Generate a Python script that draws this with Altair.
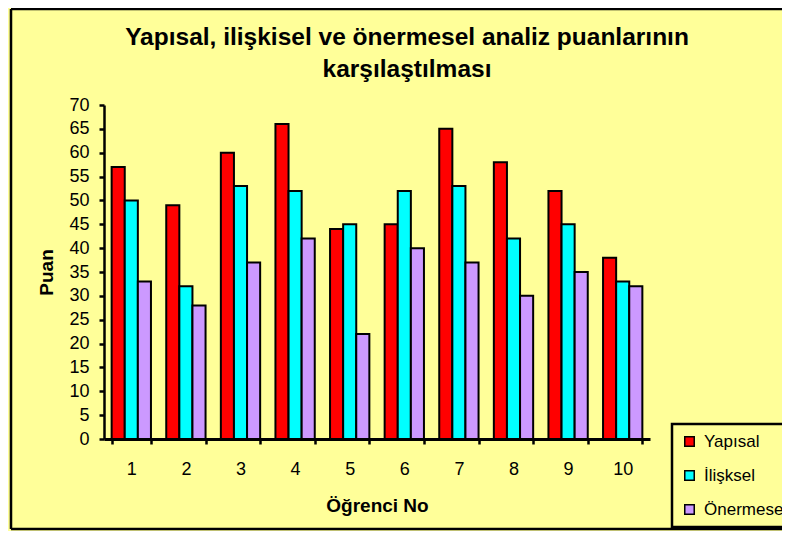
import altair as alt
import pandas as pd

students = ["1", "2", "3", "4", "5", "6", "7", "8", "9", "10"]
series_names = ["Yapısal", "İlişksel", "Önermesel"]
yapisal = [57, 49, 60, 66, 44, 45, 65, 58, 52, 38]
iliskisel = [50, 32, 53, 52, 45, 52, 53, 42, 45, 33]
onermesel = [33, 28, 37, 42, 22, 40, 37, 30, 35, 32]
colors = ["#FF0000", "#00FFFF", "#CC99FF"]
y_ticks = list(range(0, 75, 5))

rows = []
for name, vals in zip(series_names, [yapisal, iliskisel, onermesel]):
    for s, v in zip(students, vals):
        rows.append({"Öğrenci": s, "Seri": name, "Puan": v})
df = pd.DataFrame(rows)

FONT = "Liberation Sans"
W, H = 546, 334
PAD_L, PAD_T, PAD_R, PAD_B = 96, 97, 132, 92

bars = alt.Chart(df).mark_bar(
    stroke="black", strokeWidth=2, strokeOpacity=1, opacity=1
).encode(
    x=alt.X(
        "Öğrenci:N",
        sort=students,
        scale=alt.Scale(paddingInner=0.28, paddingOuter=0.14),
        axis=alt.Axis(
            title="Öğrenci No",
            labelAngle=0,
            tickBand="extent",
            domainColor="black",
            domainWidth=3,
            tickColor="black",
            tickWidth=2.5,
            tickSize=5,
            labelPadding=16,
            titlePadding=18,
            labelFontSize=18,
            titleFontSize=19,
        ),
    ),
    xOffset=alt.XOffset("Seri:N", sort=series_names, scale=alt.Scale(paddingInner=0, paddingOuter=0)),
    y=alt.Y(
        "Puan:Q",
        scale=alt.Scale(domain=[0, 70], nice=False),
        axis=alt.Axis(
            title="Puan",
            values=y_ticks,
            grid=False,
            domainColor="black",
            domainWidth=2.5,
            tickColor="black",
            tickWidth=2.5,
            tickSize=5,
            labelPadding=10,
            titlePadding=12,
            labelFontSize=18,
            titleFontSize=19,
        ),
    ),
    fill=alt.Fill(
        "Seri:N",
        sort=series_names,
        scale=alt.Scale(domain=series_names, range=colors),
        legend=alt.Legend(
            title=None,
            orient="none",
            legendX=568,
            legendY=319,
            symbolType="square",
            symbolSize=90,
            symbolStrokeColor="black",
            symbolStrokeWidth=1.5,
            labelFontSize=17,
            labelOffset=6,
            rowPadding=16,
            padding=9,
            strokeColor="black",
            fillColor="#FFFF99",
        ),
    ),
    stroke=alt.value("black"),
)

frame_df = pd.DataFrame({"k": [0]})
left_rule = alt.Chart(frame_df).mark_rule(color="black", strokeWidth=2.5).encode(
    x=alt.value(-93), y=alt.value(-96), y2=alt.value(424)
)
top_rule = alt.Chart(frame_df).mark_rule(color="black", strokeWidth=2.5).encode(
    x=alt.value(-93), x2=alt.value(700), y=alt.value(-96)
)
bottom_rule = alt.Chart(frame_df).mark_rule(color="black", strokeWidth=2.5).encode(
    x=alt.value(-93), x2=alt.value(700), y=alt.value(424)
)

chart = alt.layer(bars, left_rule, top_rule, bottom_rule).properties(
    width=W,
    height=H,
    autosize=alt.AutoSizeParams(type="none"),
    padding={"left": PAD_L, "top": PAD_T, "right": PAD_R, "bottom": PAD_B},
    title=alt.TitleParams(
        text=["Yapısal, ilişkisel ve önermesel analiz puanlarının", "karşılaştılması"],
        fontSize=24.5,
        fontWeight="bold",
        font=FONT,
        color="black",
        anchor="middle",
        dx=30,
        dy=85,
        offset=10,
        lineHeight=32,
    ),
).configure(
    background="#FFFF99",
    font=FONT,
).configure_view(
    stroke="transparent",
).configure_axis(
    labelFont=FONT,
    titleFont=FONT,
    labelColor="black",
    titleColor="black",
    titleFontWeight="bold",
).configure_legend(
    labelFont=FONT,
    labelColor="black",
    strokeWidth=2.5,
)

chart.save("out.html", embed_options={"renderer": "svg", "actions": False})
